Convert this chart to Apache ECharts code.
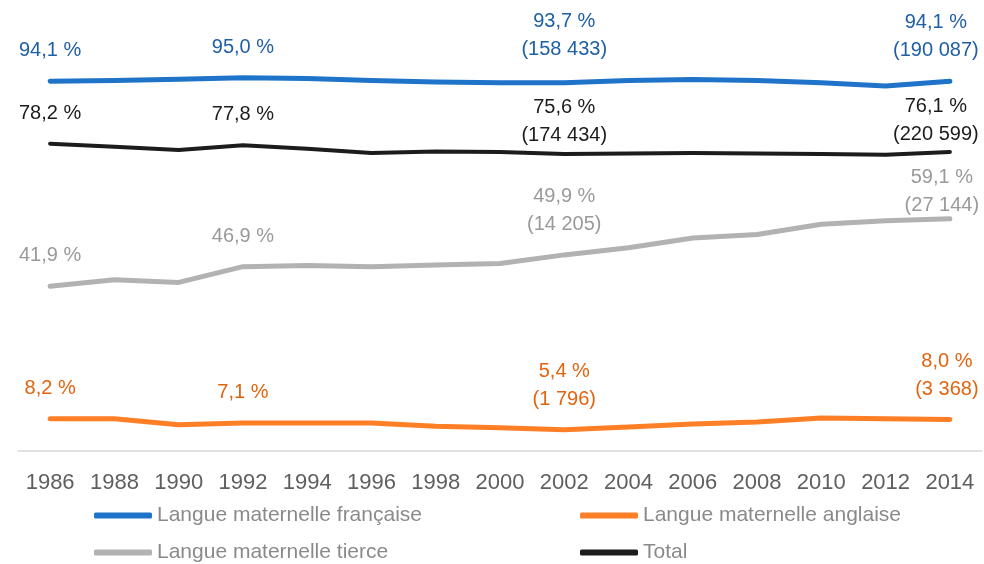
<!DOCTYPE html>
<html>
<head>
<meta charset="utf-8">
<script src="https://cdn.jsdelivr.net/npm/echarts@6/dist/echarts.min.js"></script>
<style>html,body{margin:0;padding:0;background:#fff}#c{width:984px;height:564px}</style>
</head>
<body>
<div id="c"></div>
<script>
const years = ['1986','1988','1990','1992','1994','1996','1998','2000','2002','2004','2006','2008','2010','2012','2014'];
const francaise = [94.1, 94.3, 94.6, 95.0, 94.8, 94.3, 93.9, 93.7, 93.7, 94.3, 94.5, 94.3, 93.7, 92.9, 94.1];
const anglaise  = [8.2, 8.2, 6.7, 7.1, 7.1, 7.1, 6.3, 5.9, 5.4, 6.1, 6.9, 7.4, 8.4, 8.2, 8.0];
const tierce    = [41.9, 43.6, 42.9, 46.9, 47.2, 46.9, 47.3, 47.7, 49.9, 51.7, 54.2, 55.1, 57.7, 58.6, 59.1];
const total     = [78.2, 77.4, 76.6, 77.8, 76.9, 75.8, 76.2, 76.1, 75.6, 75.7, 75.8, 75.7, 75.6, 75.4, 76.1];
// labelled points (indices into years) and the counts shown under the percentage
const labelIdx = [0, 3, 8, 14];
const countsFrancaise = [null, null, 158433, 190087];
const countsAnglaise  = [null, null, 1796, 3368];
const countsTierce    = [null, null, 14205, 27144];
const countsTotal     = [null, null, 174434, 220599];

const FONT = '"Liberation Sans", Arial, sans-serif';

// label placement tweaks (pixel offsets per labelled point)
const labelOffsets = {
  fr:    [[0,0],[0,0],[0,-3],[-14,0]],
  en:    [[0,0],[0,0],[0,0],[-3,0]],
  ti:    [[0,0],[0,0],[0,0],[-8,17]],
  tot:   [[0,0],[0,0],[0,12],[-14,13]]
};

function fmtPct(v){ return v.toFixed(1).replace('.', ',') + ' %'; }
function fmtCount(n){ return '(' + String(n).replace(/\B(?=(\d{3})+(?!\d))/g, ' ') + ')'; }

function buildData(vals, counts, offs){
  return vals.map((v, i) => {
    const k = labelIdx.indexOf(i);
    if (k < 0) return v;
    const txt = counts[k] == null ? fmtPct(v) : fmtPct(v) + '\n' + fmtCount(counts[k]);
    return { value: v, label: { show: true, formatter: txt, offset: offs[k] } };
  });
}

function mkSeries(name, vals, counts, offs, lineColor, textColor, width){
  return {
    name, type: 'line', data: buildData(vals, counts, offs),
    symbol: 'circle', symbolSize: 3, showAllSymbol: true,
    lineStyle: { color: lineColor, width: width, cap: 'round', join: 'round' },
    itemStyle: { color: lineColor },
    label: { position: 'top', distance: 15, color: textColor, fontFamily: FONT, fontSize: 20, lineHeight: 28, align: 'center' },
    emphasis: { disabled: true },
    animation: false
  };
}

const chart = echarts.init(document.getElementById('c'));
const legendBase = { icon: 'roundRect', itemWidth: 58, itemHeight: 6, padding: 0, itemGap: 0,
  textStyle: { color: '#8a8a8a', fontFamily: FONT, fontSize: 21 }, selectedMode: false };
chart.setOption({
  backgroundColor: '#fff',
  animation: false,
  grid: { left: 18, right: 2, top: 58, bottom: 113, containLabel: false },
  xAxis: {
    type: 'category', data: years, boundaryGap: true,
    axisLine: { lineStyle: { color: '#d9d9d9', width: 1.5 } },
    axisTick: { show: false },
    axisLabel: { color: '#5f5f5f', fontFamily: FONT, fontSize: 22, margin: 21, interval: 0 }
  },
  yAxis: { type: 'value', min: 0, max: 100, show: false, splitLine: { show: false } },
  legend: [
    Object.assign({ data: ['Langue maternelle française'], left: 94, top: 505 }, legendBase),
    Object.assign({ data: ['Langue maternelle anglaise'], left: 580, top: 505 }, legendBase),
    Object.assign({ data: ['Langue maternelle tierce'], left: 94, top: 542 }, legendBase),
    Object.assign({ data: ['Total'], left: 580, top: 542 }, legendBase)
  ],
  series: [
    mkSeries('Langue maternelle française', francaise, countsFrancaise, labelOffsets.fr, '#1f74c9', '#1f5fa6', 5),
    mkSeries('Langue maternelle anglaise', anglaise, countsAnglaise, labelOffsets.en, '#ff7f27', '#e2640f', 5),
    mkSeries('Langue maternelle tierce', tierce, countsTierce, labelOffsets.ti, '#b2b2b2', '#9a9a9a', 5),
    mkSeries('Total', total, countsTotal, labelOffsets.tot, '#1c1c1c', '#1c1c1c', 4)
  ]
});
</script>
</body>
</html>
